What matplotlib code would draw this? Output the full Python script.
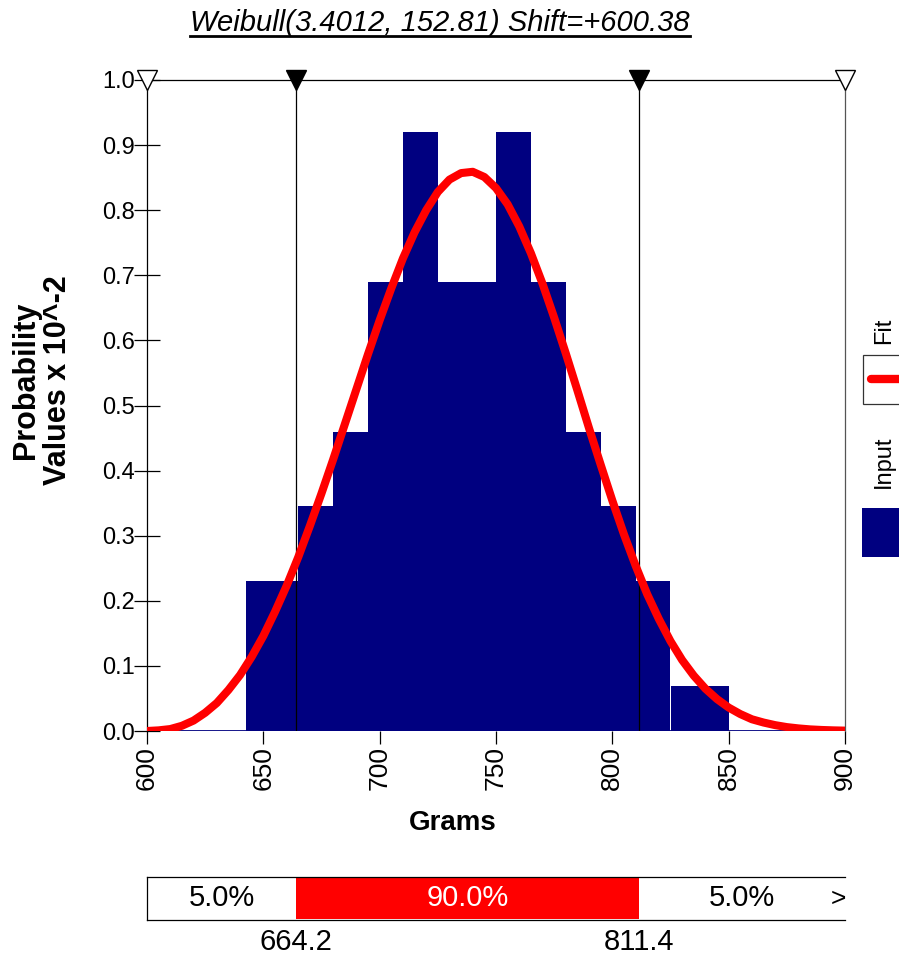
import numpy as np
import matplotlib
matplotlib.use('Agg')
import matplotlib.pyplot as plt
from matplotlib.patches import Rectangle
from matplotlib.lines import Line2D

plt.rcParams['font.family'] = ['Liberation Sans', 'DejaVu Sans']

#---------------data---------------------------------------
title = 'Weibull(3.4012, 152.81) Shift=+600.38'

# histogram (Input): bin edges in grams, heights in probability x 10^-2
bin_edges = [642.5, 665, 680, 695, 710, 725, 750, 765, 780, 795, 810, 825, 850]
bin_heights = [0.23, 0.345, 0.46, 0.69, 0.92, 0.69, 0.92, 0.69, 0.46, 0.345, 0.23, 0.069]

# fitted curve (Fit), values every 5 g
fit_x = list(range(600, 905, 5))
fit_y = [0.000, 0.001, 0.003, 0.008, 0.016, 0.028, 0.043, 0.063, 0.086, 0.114,
         0.146, 0.183, 0.223, 0.267, 0.315, 0.365, 0.417, 0.471, 0.525, 0.579,
         0.631, 0.680, 0.726, 0.766, 0.800, 0.828, 0.847, 0.857, 0.859, 0.851,
         0.834, 0.809, 0.775, 0.734, 0.687, 0.635, 0.580, 0.523, 0.465, 0.409,
         0.354, 0.302, 0.254, 0.210, 0.172, 0.138, 0.109, 0.085, 0.065, 0.049,
         0.036, 0.026, 0.018, 0.013, 0.009, 0.006, 0.004, 0.0025, 0.0016, 0.001,
         0.0006]

# delimiters
left_mark, right_mark = 664.2, 811.4
band_edges = [600, left_mark, right_mark, 900]
band_text = ['5.0%', '90.0%', '5.0%']
band_colors = ['white', '#ff0000', 'white']
band_text_colors = ['black', 'white', 'black']

xticks = [600, 650, 700, 750, 800, 850, 900]
yticks = [0.0, 0.1, 0.2, 0.3, 0.4, 0.5, 0.6, 0.7, 0.8, 0.9, 1.0]

navy = '#000080'
W, H = 899, 959

#---------------main plot------------------
fig = plt.figure(figsize=(W / 100, H / 100), dpi=100)
ax = fig.add_axes([147 / W, 1 - 731 / H, 698 / W, 651 / H])

widths = np.diff(bin_edges)
ax.bar(bin_edges[:-1], bin_heights, width=widths, align='edge', color=navy, linewidth=0, zorder=2)
ax.plot([600, 900], [0, 0], color=navy, lw=2, zorder=2)
ax.plot(fit_x, fit_y, color='#ff0000', lw=5.8, solid_capstyle='butt',
        solid_joinstyle='round', zorder=4)

for xm in [left_mark, right_mark]:
    ax.plot([xm, xm], [0, 1], color='black', lw=0.9, zorder=3)
ax.plot([600, 900], [1, 1], ls='none', marker='v', ms=14, mfc='white', mec='black',
        mew=1, clip_on=False, zorder=6)
ax.plot([left_mark, right_mark], [1, 1], ls='none', marker='v', ms=14, mfc='black',
        mec='black', clip_on=False, zorder=6)

ax.set_xlim(600, 900)
ax.set_ylim(0, 1.0)
ax.set_xticks(xticks)
ax.set_xticklabels([str(t) for t in xticks], rotation=90, fontsize=19)
ax.set_yticks(yticks)
ax.set_yticklabels(['%.1f' % t for t in yticks], fontsize=17)
ax.tick_params(axis='y', direction='inout', length=19, width=0.9, pad=-1, colors='black')
ax.tick_params(axis='x', direction='out', length=9, width=0.9, pad=2)
for s in ax.spines.values():
    s.set_linewidth(0.9)
ax.spines['right'].set_color('#555555')
ax.spines['bottom'].set_visible(False)

fig.text(42 / W, 1 - 380 / H, 'Probability\nValues x 10^-2', rotation=90, ha='center',
         va='center', fontsize=22, fontweight='bold', linespacing=1.05, multialignment='center')
fig.text(453 / W, 1 - 823 / H, 'Grams', ha='center', va='center', fontsize=20, fontweight='bold')
ttl = fig.text(440 / W, 1 - 23 / H, title, ha='center', va='center', fontsize=21, style='italic')

#---------------bottom band------------------
axb = fig.add_axes([147 / W, 1 - 920 / H, 698 / W, 43 / H])
for i in range(3):
    axb.barh(0.5, band_edges[i + 1] - band_edges[i], left=band_edges[i], height=0.94,
             color=band_colors[i], linewidth=0)
    axb.text((band_edges[i] + band_edges[i + 1]) / 2, 0.5, band_text[i], ha='center',
             va='center', fontsize=21, color=band_text_colors[i])
axb.text(897, 0.5, '>', ha='center', va='center', fontsize=19)
axb.set_xlim(600, 900)
axb.set_ylim(0, 1)
axb.set_yticks([])
axb.set_xticks([left_mark, right_mark])
axb.set_xticklabels(['%.1f' % left_mark, '%.1f' % right_mark], fontsize=21)
axb.tick_params(axis='x', length=0, pad=6)
axb.spines['right'].set_visible(False)
for s in axb.spines.values():
    s.set_linewidth(0.9)

#---------------legend, cut by the right edge------------------
axl = fig.add_axes([0, 0, 1, 1], facecolor='none')
axl.set_xlim(0, W)
axl.set_ylim(H, 0)
axl.axis('off')
axl.text(884, 331, 'Fit', rotation=90, ha='center', va='center', fontsize=17)
axl.add_patch(Rectangle((863, 355), 60, 49, facecolor='white', edgecolor='#333333', lw=0.9))
axl.plot([871, 905], [379, 379], color='#ff0000', lw=6, solid_capstyle='round')
axl.text(884, 462, 'Input', rotation=90, ha='center', va='center', fontsize=17)
axl.add_patch(Rectangle((862, 508), 60, 49, facecolor=navy, edgecolor='none'))

#---------------underline the title------------------
fig.canvas.draw()
bb = ttl.get_window_extent().transformed(fig.transFigure.inverted())
fig.add_artist(Line2D([bb.x0, bb.x1], [bb.y0 + 1 / H, bb.y0 + 1 / H], color='black', lw=2))

fig.savefig('out.png', dpi=100)
